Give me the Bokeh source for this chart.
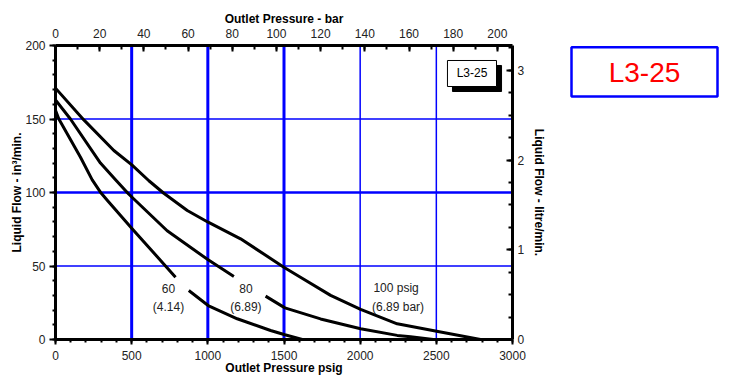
from bokeh.plotting import figure
from bokeh.models import (Range1d, LinearAxis, SingleIntervalTicker, Span, Label,
                          BoxAnnotation)
from bokeh.layouts import row
from bokeh.core.properties import value
from bokeh.embed import file_html
from bokeh.resources import INLINE

# ---- data ----
psig_100 = [0, 186, 383, 503, 613, 711, 865, 1002, 1215, 1499, 1608, 1806, 2003, 2243, 2502, 2790]
flow_100 = [171, 149.4, 128.6, 118.6, 108, 99.5, 87.8, 79.8, 68.5, 49.2, 42.4, 30, 20.5, 10.7, 5.6, 0]

psig_80a = [0, 98, 295, 394, 480, 733, 1002, 1171]
flow_80a = [163, 150, 120, 108.6, 99, 74, 54.2, 42.9]
psig_80b = [1379, 1506, 1740, 2003, 2243, 2331, 2480]
flow_80b = [29.5, 21.5, 14, 7.3, 2.8, 1.8, 0]

psig_60a = [0, 22, 164, 241, 295, 341, 503, 788]
flow_60a = [156, 150, 124, 108.6, 100.2, 94.6, 75.4, 42.4]
psig_60b = [875, 1002, 1193, 1412, 1506, 1620]
flow_60b = [33.3, 23.1, 14.1, 6.1, 3.2, 0]

grid_x_major = [500, 1000, 1500]
grid_x_minor = [2000, 2500]
grid_y_major = [100]
grid_y_minor = [50, 150]

model_name = "L3-25"

PSI_PER_BAR = 14.5038
L_PER_IN3 = 0.0163871

FONT = "Liberation Sans"

p = figure(width=552, height=380, x_range=Range1d(0, 3000), y_range=Range1d(0, 200),
           output_backend="svg", toolbar_location=None,
           min_border_left=55, min_border_right=40, min_border_top=45, min_border_bottom=41)
p.outline_line_color = None
p.grid.visible = False
p.background_fill_color = "white"
p.border_fill_color = "white"

p.extra_x_ranges = {"bar": Range1d(0, 3000 / PSI_PER_BAR)}
p.extra_y_ranges = {"lpm": Range1d(0, 200 * L_PER_IN3)}

def style_axis(ax, tick_in, tick_out, minor_in, minor_out, standoff, lab_standoff):
    ax.axis_line_width = 3
    ax.axis_line_color = "black"
    ax.major_tick_line_width = 2
    ax.minor_tick_line_width = 2
    ax.major_tick_line_color = "black"
    ax.minor_tick_line_color = "black"
    ax.major_tick_in = tick_in
    ax.major_tick_out = tick_out
    ax.minor_tick_in = minor_in
    ax.minor_tick_out = minor_out
    ax.major_label_text_font = FONT
    ax.major_label_text_font_size = "12px"
    ax.major_label_text_color = "#222222"
    ax.major_label_standoff = standoff
    ax.axis_label_text_font = FONT
    ax.axis_label_text_font_size = "12px"
    ax.axis_label_text_font_style = "bold"
    ax.axis_label_text_color = "black"
    ax.axis_label_standoff = lab_standoff

xa = p.xaxis[0]
xa.ticker = SingleIntervalTicker(interval=500, num_minor_ticks=5)
xa.axis_label = "Outlet Pressure psig"
style_axis(xa, 0, 5, 0, 3, 6, -2)

ya = p.yaxis[0]
ya.ticker = SingleIntervalTicker(interval=50, num_minor_ticks=5)
ya.axis_label = "Liquid Flow - in³/min."
style_axis(ya, 0, 6, 0, 3, 4, -2)

top = LinearAxis(x_range_name="bar", ticker=SingleIntervalTicker(interval=20, num_minor_ticks=2),
                 axis_label="Outlet Pressure - bar")
style_axis(top, 6, 0, 4, 0, 8, 0)
p.add_layout(top, "above")

right = LinearAxis(y_range_name="lpm", ticker=SingleIntervalTicker(interval=1, num_minor_ticks=4),
                   axis_label="Liquid Flow - litre/min.")
style_axis(right, 6, 0, 4, 0, 5, 5)
p.add_layout(right, "right")

for v in grid_x_major:
    p.add_layout(Span(location=v, dimension="height", line_color="#0000ff", line_width=3, level="underlay"))
for v in grid_x_minor:
    p.add_layout(Span(location=v, dimension="height", line_color="#0000ff", line_width=1.5, level="underlay"))
for v in grid_y_major:
    p.add_layout(Span(location=v, dimension="width", line_color="#0000ff", line_width=2.5, level="underlay"))
for v in grid_y_minor:
    p.add_layout(Span(location=v, dimension="width", line_color="#0000ff", line_width=1.5, level="underlay"))

for xs, ys in [(psig_100, flow_100), (psig_80a, flow_80a), (psig_80b, flow_80b),
               (psig_60a, flow_60a), (psig_60b, flow_60b)]:
    p.line(xs, ys, line_color="black", line_width=3, line_join="round")

def lab(x, y, t, align="center", size="12px", color="#222222"):
    p.add_layout(Label(x=x, y=y, text=t, text_align=align, text_baseline="middle",
                       text_font=FONT, text_font_size=size, text_color=color))

lab(742, 34.7, "60")
lab(742, 22.4, "(4.14)")
lab(1250, 34.7, "80")
lab(1250, 22.4, "(6.89)")
lab(2087, 34.7, "100 psig", align="left")
lab(2078, 22.4, "(6.89 bar)", align="left")

# inner model tag with shadow
p.add_layout(BoxAnnotation(left=2606, right=2928, bottom=168.7, top=186.4,
                           fill_color="black", fill_alpha=1, line_color="black", line_alpha=1))
p.add_layout(BoxAnnotation(left=2573, right=2895, bottom=172.1, top=189.8,
                           fill_color="white", fill_alpha=1, line_color="black", line_width=1, line_alpha=1))
lab(2734, 181, model_name, color="black")

# outer model tag in a side panel (pixel-space figure; its frame aligns with the main frame, 45..339)
p2 = figure(width=178, height=380, x_range=Range1d(0, 178), y_range=Range1d(339, 45),
            output_backend="svg", toolbar_location=None,
            min_border_left=0, min_border_right=0, min_border_top=0, min_border_bottom=0,
            x_axis_type=None, y_axis_type=None)
p2.outline_line_color = None
p2.grid.visible = False
p2.quad(left=[19], right=[165], top=[46.7], bottom=[96], fill_color=None,
        line_color="#0000ff", line_width=2.5)
p2.text(x=[92], y=[71.5], text=[model_name], text_align="center", text_baseline="middle",
        text_font=value(FONT), text_font_size="28px", text_color="#ff0000")

open("out.html", "w").write(file_html(row(p, p2), INLINE))
